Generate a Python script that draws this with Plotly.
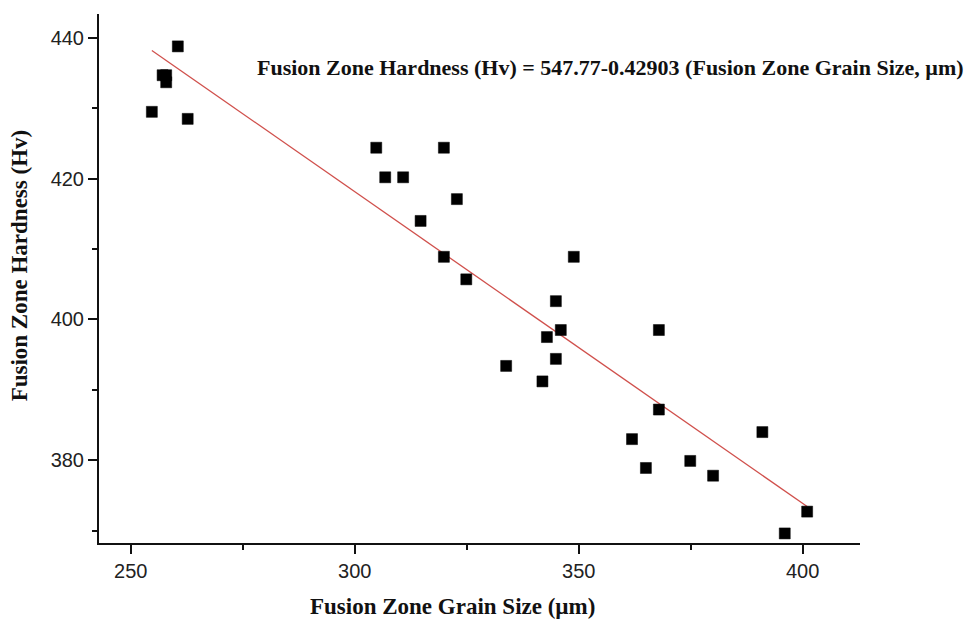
import numpy as np
import plotly.graph_objects as go

grain_size = [260.5, 257.1, 257.9, 257.9, 254.7, 262.7, 304.8, 319.9, 306.8, 310.8,
              322.8, 314.7, 319.9, 324.9, 348.9, 344.9, 346.0, 342.9, 344.9, 333.8,
              341.9, 367.9, 367.9, 361.9, 365.0, 374.9, 380.0, 391.0, 401.0, 396.0]
hardness = [438.8, 434.7, 434.7, 433.7, 429.5, 428.5, 424.4, 424.4, 420.2, 420.2,
            417.1, 414.0, 408.9, 405.7, 408.9, 402.6, 398.5, 397.5, 394.4, 393.4,
            391.2, 398.5, 387.2, 383.0, 378.9, 379.9, 377.8, 384.0, 372.7, 369.6]

x_ticks = [250, 300, 350, 400]
y_ticks = [380, 400, 420, 440]
equation_text = "Fusion Zone Hardness (Hv) = 547.77-0.42903 (Fusion Zone Grain Size, µm)"
x_title = "Fusion Zone Grain Size (µm)"
y_title = "Fusion Zone Hardness (Hv)"

# linear fit through the data
slope, intercept = np.polyfit(grain_size, hardness, 1)
fit_x = [min(grain_size), max(grain_size)]
fit_y = [intercept + slope * v for v in fit_x]

fig = go.Figure()
fig.add_trace(go.Scatter(
    x=fit_x, y=fit_y, mode="lines",
    line=dict(color="#d0504c", width=1.3), showlegend=False, hoverinfo="skip"))
fig.add_trace(go.Scatter(
    x=grain_size, y=hardness, mode="markers",
    marker=dict(symbol="square", size=11, color="black", line=dict(color="black", width=0.5)),
    showlegend=False))

serif = "Liberation Serif, Times New Roman, serif"
sans = "Liberation Sans, Arial, sans-serif"

fig.update_layout(
    width=978, height=619,
    margin=dict(l=99, r=118, t=14, b=76),
    plot_bgcolor="white", paper_bgcolor="white",
    xaxis=dict(range=[242.9, 412.8], tickvals=x_ticks, ticks="outside", ticklen=9, tickwidth=2,
               tickcolor="#111", showline=True, linecolor="#111", linewidth=2, showgrid=False,
               zeroline=False, tickfont=dict(family=sans, size=20, color="#222"),
               minor=dict(dtick=25, tick0=250, ticks="outside", ticklen=5, tickwidth=2, tickcolor="#111")),
    yaxis=dict(range=[368.24, 443.4], tickvals=y_ticks, ticks="outside", ticklen=9, tickwidth=2,
               tickcolor="#111", showline=True, linecolor="#111", linewidth=2, showgrid=False,
               zeroline=False, tickfont=dict(family=sans, size=20, color="#222"),
               minor=dict(dtick=10, tick0=380, ticks="outside", ticklen=5, tickwidth=2, tickcolor="#111")),
    annotations=[
        dict(text="<b>" + equation_text + "</b>", xref="paper", yref="paper", x=0.6715, y=0.898,
             xanchor="center", yanchor="middle", showarrow=False,
             font=dict(family=serif, size=22, color="#111")),
        dict(text="<b>" + x_title + "</b>", xref="paper", yref="paper", x=0.465, y=-0.12,
             xanchor="center", yanchor="middle", showarrow=False,
             font=dict(family=serif, size=23, color="#111")),
        dict(text="<b>" + y_title + "</b>", xref="paper", yref="paper", x=-0.105, y=0.525,
             xanchor="center", yanchor="middle", showarrow=False, textangle=-90,
             font=dict(family=serif, size=23, color="#111")),
    ],
)

fig.write_html("out.html")
